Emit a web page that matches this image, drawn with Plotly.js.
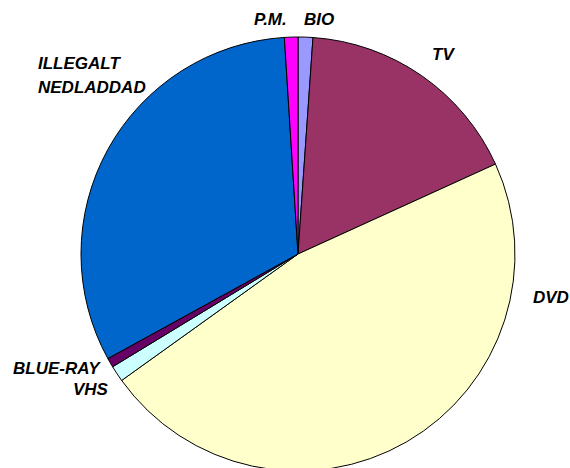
<!DOCTYPE html>
<html>
<head>
<meta charset="utf-8">
<script src="https://cdn.plot.ly/plotly-3.0.1.min.js"></script>
<style>
html,body{margin:0;padding:0;overflow:hidden;background:#fff;}
#chart{width:570px;height:472px;}
</style>
</head>
<body>
<div id="chart"></div>
<script>
// Data (clockwise from 12 o'clock)
const categories = ["BIO", "TV", "DVD", "VHS", "BLUE-RAY", "ILLEGALT NEDLADDAD", "P.M."];
const values = [1.1, 17.1, 46.9, 1.2, 0.7, 32.0, 1.0];
const colors = ["#9999FF", "#993366", "#FFFFCC", "#CCFFFF", "#660066", "#0066CC", "#FF00FF"];

const W = 570, H = 472;
const px = x => x / W;
const py = y => 1 - y / H;

const font = {family: "Liberation Sans, Arial, sans-serif", size: 17, color: "#000", weight: "bold", style: "italic"};

function label(text, x, y, anchor) {
  return {text: text, x: px(x), y: py(y), xref: "paper", yref: "paper",
          xanchor: anchor, yanchor: "middle", showarrow: false, font: font};
}

const trace = {
  type: "pie",
  labels: categories,
  values: values,
  sort: false,
  direction: "clockwise",
  rotation: 0,
  textinfo: "none",
  hoverinfo: "none",
  marker: {colors: colors, line: {color: "#000", width: 1}},
  domain: {x: [px(81), px(515)], y: [py(471), py(37)]}
};

const layout = {
  width: W, height: H,
  margin: {l: 0, r: 0, t: 0, b: 0},
  showlegend: false,
  paper_bgcolor: "#fff",
  annotations: [
    label("P.M.", 289, 19, "right"),
    label("BIO", 302, 19, "left"),
    label("TV", 443, 54, "center"),
    label("DVD", 531, 297, "left"),
    label("ILLEGALT", 36, 64, "left"),
    label("NEDLADDAD", 36, 87, "left"),
    label("BLUE-RAY", 11, 368, "left"),
    label("VHS", 111, 389, "right")
  ]
};

Plotly.newPlot("chart", [trace], layout, {displayModeBar: false, staticPlot: true});
</script>
</body>
</html>
